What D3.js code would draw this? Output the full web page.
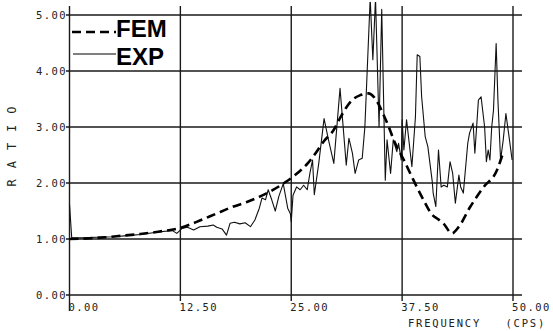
<!DOCTYPE html>
<html>
<head>
<meta charset="utf-8">
<script src="https://d3js.org/d3.v7.min.js"></script>
<style>
  html, body { margin: 0; padding: 0; background: #fff; }
  svg { display: block; }
  .tick-label { font-family: "DejaVu Sans Mono", monospace; font-size: 10.5px; letter-spacing: 1.4px; fill: #222; }
  .legend { font-family: "Liberation Sans", Arial, sans-serif; font-weight: bold; font-size: 24px; fill: #000; }
</style>
</head>
<body>
<script>
;'use strict';

var W = 553, H = 331

// frequency (cps) / ratio
var femFreq  = [0, 2, 4, 6, 8, 10, 12.5, 14.7, 16.5, 18.5, 20, 21.5, 23, 24.1, 25.5, 26.9, 27.5,
  28.7, 29.8, 30.5, 31.3, 32, 32.8, 33.7, 34.3, 34.8, 35.4, 36, 36.6, 37.7, 38.6, 39.9,
  40.9, 41.6, 42.2, 43.1, 43.9, 45.2, 46.7, 48.2, 48.8]
var femRatio = [1.0, 1.01, 1.03, 1.06, 1.09, 1.13, 1.2, 1.33, 1.45, 1.58, 1.66, 1.76, 1.88, 1.99, 2.15, 2.36, 2.48,
  2.75, 2.95, 3.16, 3.37, 3.5, 3.57, 3.6, 3.54, 3.42, 3.22, 3.0, 2.75, 2.41, 2.11, 1.7,
  1.43, 1.35, 1.27, 1.1, 1.22, 1.58, 1.93, 2.23, 2.5]

var expFreq  = [0, 0.25, 1.5, 3, 5, 6.5, 8, 10.2, 11.6, 12.1, 12.7, 13.3, 14, 14.7, 15.6, 16.2, 16.6,
  17.2, 17.7, 18.1, 18.6, 19.2, 19.8, 20.4, 20.9, 21.4, 21.7, 22.1, 22.4, 22.8, 23.2, 23.6,
  24.1, 24.6, 24.9, 25, 25.2, 25.6, 26, 26.4, 26.8, 27.1, 27.4, 27.6, 28.1, 28.7, 29.2,
  29.8, 30.5, 31.2, 31.5, 31.9, 32.2, 32.6, 33, 33.3, 33.9, 34.2, 34.5, 34.9, 35.2, 35.6,
  35.8, 36.2, 36.5, 36.9, 37.1, 37.4, 37.5, 37.7, 38, 38.3, 38.6, 39, 39.2, 39.5, 39.7,
  40.1, 40.4, 40.9, 41, 41.3, 41.6, 41.9, 42.2, 42.6, 42.9, 43.2, 43.5, 43.9, 44.1, 44.4,
  44.9, 45.1, 45.5, 45.7, 46.1, 46.4, 46.8, 47, 47.2, 47.4, 47.6, 47.8, 48.1, 48.3, 48.6,
  48.9, 49.2, 49.5, 49.9]
var expRatio = [1.62, 1.02, 1.02, 1.03, 1.04, 1.06, 1.08, 1.13, 1.15, 1.10, 1.19, 1.21, 1.16, 1.22, 1.23, 1.25, 1.21,
  1.18, 1.07, 1.28, 1.3, 1.27, 1.29, 1.22, 1.34, 1.55, 1.73, 1.7, 1.88, 1.7, 1.5, 1.76,
  1.99, 1.55, 1.45, 1.31, 1.78, 1.93, 1.88, 1.96, 1.88, 2.17, 2.41, 1.79, 2.35, 3.15, 2.77,
  2.35, 3.69, 2.32, 2.8, 2.53, 2.17, 2.41, 2.44, 3.0, 5.3, 4.2, 5.3, 3.0, 5.1, 2.05,
  2.77, 2.17, 2.77, 2.56, 2.71, 2.41, 3.13, 2.59, 3.13, 2.71, 2.29, 3.18, 4.29, 4.26, 3.54,
  2.83, 2.65, 2.02, 1.82, 1.58, 2.59, 1.93, 1.96, 1.93, 2.38, 2.17, 1.64, 2.14, 1.93, 1.82,
  2.71, 2.89, 3.07, 2.53, 3.48, 3.54, 3.0, 2.38, 2.59, 2.41, 3.0, 3.3, 4.49, 3.48, 2.41,
  2.77, 3.24, 2.89, 2.41]

var xTicks = [0, 12.5, 25, 37.5, 50]
var yTicks = [0, 1, 2, 3, 4, 5]

var zip = function(a, b) { return a.map(function(v, i) { return [v, b[i]] }) }

var x = d3.scaleLinear().domain([0, 50]).range([69.5, 513])
  , y = d3.scaleLinear().domain([0, 5]).range([295, 15])

var svg = d3.select('body').append('svg')
  .attr('width', W).attr('height', H)

svg.append('rect').attr('width', W).attr('height', H).attr('fill', '#fff')

svg.append('defs').append('clipPath').attr('id', 'clip')
  .append('rect').attr('x', 60).attr('y', 2).attr('width', 480).attr('height', 320)

// grid
var grid = svg.append('g').attr('stroke', '#1a1a1a').attr('stroke-width', 1.4)
grid.selectAll('line.h').data(yTicks).enter().append('line')
  .attr('x1', 66).attr('x2', 522)
  .attr('y1', function(d) { return y(d) }).attr('y2', function(d) { return y(d) })
grid.selectAll('line.v').data(xTicks).enter().append('line')
  .attr('x1', function(d) { return x(d) }).attr('x2', function(d) { return x(d) })
  .attr('y1', 6).attr('y2', function(d) { return d === 0 ? 311 : 301 })

// tick labels
svg.selectAll('text.yl').data(yTicks).enter().append('text')
  .attr('class', 'tick-label')
  .attr('x', 36).attr('y', function(d) { return y(d) + 4 })
  .text(function(d) { return d.toFixed(2) })
svg.selectAll('text.xl').data(xTicks).enter().append('text')
  .attr('class', 'tick-label')
  .attr('x', function(d) { return x(d) - 1 }).attr('y', 311)
  .text(function(d) { return d.toFixed(2) })

svg.append('text').attr('class', 'tick-label')
  .attr('x', 408).attr('y', 327)
  .style('white-space', 'pre').style('letter-spacing', '1.8px')
  .text('FREQUENCY   (CPS)')

svg.append('text').attr('class', 'tick-label')
  .attr('transform', 'translate(16,141) rotate(-90)')
  .attr('text-anchor', 'middle')
  .style('font-size', '12px').style('letter-spacing', '11px')
  .text('RATIO')

var line = d3.line()
  .x(function(d) { return x(d[0]) })
  .y(function(d) { return y(d[1]) })

var plot = svg.append('g').attr('clip-path', 'url(#clip)')

plot.append('path')
  .datum(zip(expFreq, expRatio))
  .attr('fill', 'none').attr('stroke', '#111').attr('stroke-width', 1.1)
  .attr('stroke-linejoin', 'round')
  .attr('d', line)

plot.append('path')
  .datum(zip(femFreq, femRatio))
  .attr('fill', 'none').attr('stroke', '#000').attr('stroke-width', 2.6)
  .attr('stroke-dasharray', '9,5')
  .attr('d', line.curve(d3.curveMonotoneX))

// legend
var lg = svg.append('g')
lg.append('line').attr('x1', 72).attr('x2', 116).attr('y1', 32).attr('y2', 32)
  .attr('stroke', '#000').attr('stroke-width', 2.6).attr('stroke-dasharray', '9,5')
lg.append('text').attr('class', 'legend').attr('x', 116).attr('y', 37).text('FEM')
lg.append('line').attr('x1', 73).attr('x2', 116).attr('y1', 54).attr('y2', 54)
  .attr('stroke', '#000').attr('stroke-width', 1.2)
lg.append('text').attr('class', 'legend').attr('x', 116).attr('y', 65).text('EXP')
</script>
</body>
</html>
